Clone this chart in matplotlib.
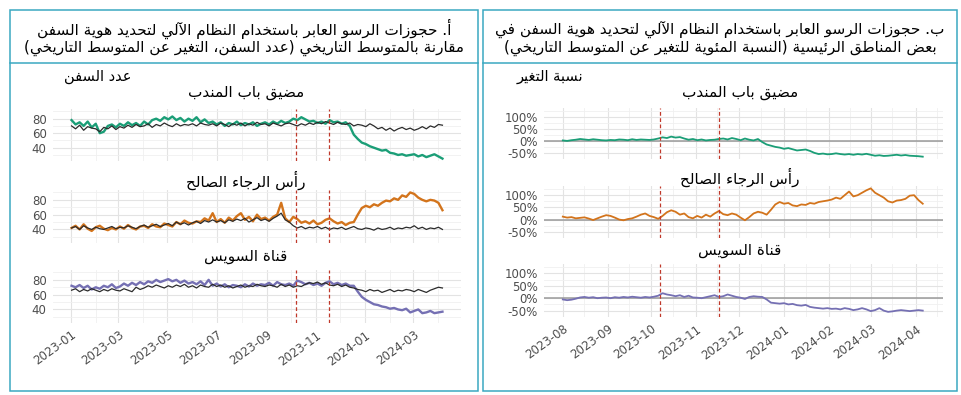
import numpy as np
import matplotlib
matplotlib.use("Agg")
import matplotlib.pyplot as plt
import matplotlib.dates as mdates
from matplotlib.patches import Rectangle
from matplotlib.lines import Line2D

plt.rcParams['font.family'] = ['DejaVu Sans']

W, H = 961, 395

################ datos ################
# panel izquierdo: numero de buques, un punto cada 5 dias desde 2023-01-02
left_start = '2023-01-02'
left_step = 5

bab_ships = [78, 72, 75, 70, 76, 68, 73, 60, 62, 70, 72, 68, 73, 70, 75, 71, 74, 70,
             76, 72, 78, 80, 77, 82, 79, 83, 78, 81, 76, 80, 77, 82, 75, 79, 74, 76,
             72, 75, 70, 74, 72, 76, 71, 74, 72, 75, 70, 73, 75, 72, 76, 73, 77, 74,
             76, 80, 78, 82, 79, 76, 77, 74, 76, 73, 78, 75, 76, 73, 75, 70, 58, 52,
             47, 45, 42, 40, 38, 36, 37, 33, 32, 30, 31, 29, 30, 31, 28, 30, 27, 29,
             31, 28, 25]
bab_hist = [70, 66, 71, 64, 69, 67, 66, 62, 68, 66, 70, 65, 69, 67, 71, 68, 72, 69,
            70, 73, 68, 72, 70, 74, 71, 69, 73, 70, 72, 71, 73, 70, 74, 72, 71, 73,
            70, 74, 72, 69, 73, 71, 74, 70, 73, 71, 75, 72, 73, 70, 74, 72, 70, 73,
            74, 72, 70, 73, 71, 74, 72, 75, 73, 76, 74, 72, 75, 73, 72, 74, 70, 72,
            71, 69, 73, 70, 66, 68, 64, 67, 63, 66, 68, 65, 67, 64, 66, 69, 66, 70,
            68, 72, 71]
cape_ships = [42, 45, 40, 47, 41, 38, 43, 45, 41, 39, 42, 40, 44, 41, 46, 42, 40, 44,
              45, 42, 47, 44, 43, 48, 46, 44, 50, 47, 52, 49, 48, 51, 50, 55, 52, 62,
              50, 54, 49, 56, 52, 58, 62, 53, 57, 51, 60, 54, 56, 52, 57, 60, 76, 55,
              50, 57, 54, 49, 51, 48, 52, 47, 49, 53, 55, 51, 48, 50, 46, 49, 50, 60,
              69, 72, 70, 74, 72, 76, 79, 78, 82, 80, 86, 84, 90, 88, 83, 80, 78, 80,
              79, 76, 66]
cape_hist = [42, 44, 40, 45, 42, 40, 43, 41, 40, 42, 44, 41, 43, 42, 45, 43, 41, 44,
             46, 43, 45, 47, 44, 46, 48, 45, 50, 47, 49, 46, 49, 51, 48, 52, 50, 53,
             50, 52, 49, 53, 51, 54, 52, 55, 50, 53, 56, 52, 54, 51, 55, 58, 62, 53,
             50, 45, 42, 44, 41, 43, 42, 44, 41, 43, 40, 42, 41, 43, 40, 42, 44, 41,
             40, 42, 41, 39, 42, 40, 41, 43, 40, 42, 41, 43, 42, 45, 41, 43, 40, 42,
             41, 43, 40]
suez_ships = [72, 70, 73, 69, 72, 67, 70, 68, 72, 70, 74, 69, 71, 75, 72, 76, 73, 77,
              74, 78, 76, 80, 77, 79, 81, 78, 80, 76, 79, 75, 77, 74, 78, 73, 80, 72,
              75, 71, 74, 70, 73, 72, 70, 74, 71, 75, 72, 74, 73, 76, 72, 77, 74, 73,
              75, 72, 79, 77, 74, 76, 73, 75, 72, 76, 78, 74, 76, 73, 75, 72, 72, 64,
              57, 53, 50, 47, 46, 44, 43, 41, 42, 40, 39, 41, 36, 38, 40, 35, 36, 38,
              35, 36, 37]
suez_hist = [66, 68, 64, 67, 65, 68, 66, 64, 67, 65, 68, 66, 65, 68, 66, 64, 70, 67,
             69, 72, 70, 73, 71, 69, 72, 70, 73, 71, 74, 70, 72, 69, 73, 71, 70, 74,
             71, 73, 70, 72, 69, 71, 73, 70, 72, 71, 74, 72, 71, 73, 72, 70, 74, 71,
             73, 70, 72, 71, 74, 76, 75, 77, 74, 76, 73, 72, 74, 71, 73, 70, 69, 67,
             66, 64, 67, 65, 66, 63, 65, 67, 64, 66, 65, 67, 66, 64, 67, 65, 63, 66,
             68, 70, 69]

# panel derecho: cambio porcentual, un punto cada 3 dias desde 2023-08-01
right_start = '2023-08-01'
right_step = 3

bab_pct = [2, 0, 3, 5, 8, 6, 4, 7, 5, 3, 2, 4, 3, 6, 5, 3, 7, 4, 6, 5,
           4, 6, 10, 15, 12, 18, 14, 16, 10, 5, 8, 3, 6, 2, 4, 5, 8, 10, 6, 12,
           8, 3, 10, 5, 2, 8, -5, -15, -20, -25, -28, -33, -30, -35, -40, -38, -36, -42, -50, -55,
           -53, -56, -55, -52, -55, -57, -55, -58, -55, -57, -54, -58, -62, -60, -63, -62, -60, -58, -61, -59,
           -62, -63, -64, -66]
cape_pct = [12, 8, 10, 5, 7, 9, 4, -2, 5, 12, 18, 15, 8, 0, -3, 2, 5, 12, 20, 25,
            15, 10, 3, 15, 30, 38, 32, 20, 25, 10, 5, 15, 8, 20, 12, 25, 35, 22, 18, 25,
            20, 8, -3, 10, 25, 32, 28, 20, 40, 62, 72, 65, 68, 58, 55, 62, 60, 68, 65, 72,
            75, 78, 82, 90, 85, 100, 115, 95, 100, 110, 120, 128, 110, 100, 90, 75, 70, 78, 80, 85,
            98, 100, 80, 65]
suez_pct = [-5, -8, -6, -2, 3, 5, 2, 4, 0, 2, 3, 0, 4, 2, 5, 3, 6, 4, 2, 5,
            3, 6, 10, 20, 15, 12, 8, 12, 5, 10, 3, 2, 0, 4, 8, 12, 5, 8, 15, 10,
            5, 2, -3, 5, 8, 6, 5, -5, -18, -20, -22, -20, -25, -23, -28, -30, -27, -35, -38, -40,
            -42, -40, -43, -42, -45, -40, -43, -48, -45, -40, -45, -52, -48, -40, -50, -55, -53, -50, -48, -50,
            -52, -50, -48, -50]

events = ['2023-10-07', '2023-11-17']

regions = ['مضيق باب المندب', 'رأس الرجاء الصالح', 'قناة السويس']
title_a = ['أ. حجوزات الرسو العابر باستخدام النظام الآلي لتحديد هوية السفن',
           'مقارنة بالمتوسط التاريخي (عدد السفن، التغير عن المتوسط التاريخي)']
title_b = ['ب. حجوزات الرسو العابر باستخدام النظام الآلي لتحديد هوية السفن في',
           'بعض المناطق الرئيسية (النسبة المئوية للتغير عن المتوسط التاريخي)']
ylab_a = 'عدد السفن'
ylab_b = 'نسبة التغير'

colors = ['#1b9e77', '#d3741c', '#7570b3']


################ texto arabe: formas de presentacion + orden visual ################
FORMS = {
    'ء': (0xFE80, 1), 'آ': (0xFE81, 2), 'أ': (0xFE83, 2), 'ؤ': (0xFE85, 2), 'إ': (0xFE87, 2),
    'ئ': (0xFE89, 4), 'ا': (0xFE8D, 2), 'ب': (0xFE8F, 4), 'ة': (0xFE93, 2), 'ت': (0xFE95, 4),
    'ث': (0xFE99, 4), 'ج': (0xFE9D, 4), 'ح': (0xFEA1, 4), 'خ': (0xFEA5, 4), 'د': (0xFEA9, 2),
    'ذ': (0xFEAB, 2), 'ر': (0xFEAD, 2), 'ز': (0xFEAF, 2), 'س': (0xFEB1, 4), 'ش': (0xFEB5, 4),
    'ص': (0xFEB9, 4), 'ض': (0xFEBD, 4), 'ط': (0xFEC1, 4), 'ظ': (0xFEC5, 4), 'ع': (0xFEC9, 4),
    'غ': (0xFECD, 4), 'ف': (0xFED1, 4), 'ق': (0xFED5, 4), 'ك': (0xFED9, 4), 'ل': (0xFEDD, 4),
    'م': (0xFEE1, 4), 'ن': (0xFEE5, 4), 'ه': (0xFEE9, 4), 'و': (0xFEED, 2), 'ى': (0xFEEF, 2),
    'ي': (0xFEF1, 4),
}
LAM_ALEF = {'آ': 0xFEF5, 'أ': 0xFEF7, 'إ': 0xFEF9, 'ا': 0xFEFB}


def ar(s):
    toks = []
    i = 0
    while i < len(s):
        if s[i] == 'ل' and i + 1 < len(s) and s[i + 1] in LAM_ALEF:
            toks.append(('LA', s[i + 1]))
            i += 2
        else:
            toks.append(('C', s[i]))
            i += 1

    def joinNext(t):
        return t[0] == 'C' and t[1] in FORMS and FORMS[t[1]][1] == 4

    def joinPrev(t):
        return t[0] == 'LA' or (t[1] in FORMS and FORMS[t[1]][1] >= 2)

    out = []
    for k, t in enumerate(toks):
        r = k > 0 and joinNext(toks[k - 1]) and joinPrev(t)
        l = k + 1 < len(toks) and joinNext(t) and joinPrev(toks[k + 1])
        if t[0] == 'LA':
            out.append(chr(LAM_ALEF[t[1]] + int(r)))
        elif t[1] in FORMS:
            base, n = FORMS[t[1]]
            if n == 1:
                out.append(chr(base))
            elif n == 2:
                out.append(chr(base + int(r)))
            else:
                out.append(chr(base + (3 if (r and l) else 1 if r else 2 if l else 0)))
        else:
            out.append(t[1])
    return ''.join(out)[::-1].translate(str.maketrans('()', ')('))


################ utilidades de posicion (pixeles) ################
def pxAxes(fig, x0, y0, x1, y1):
    return fig.add_axes([x0 / W, 1 - y1 / H, (x1 - x0) / W, (y1 - y0) / H])


def pxText(fig, x, y, s, **kw):
    fig.text(x / W, 1 - y / H, s, **kw)


def styleAxes(ax, xlim, ylim, yticks, yminor, ylabels, major_loc, minor_loc, show_dates):
    ax.set_xlim(np.datetime64(xlim[0]), np.datetime64(xlim[1]))
    ax.set_ylim(*ylim)
    for sp in ax.spines.values():
        sp.set_visible(False)
    ax.xaxis.set_major_locator(major_loc)
    ax.xaxis.set_minor_locator(minor_loc)
    ax.xaxis.set_major_formatter(mdates.DateFormatter('%Y-%m'))
    ax.set_yticks(yticks)
    ax.set_yticks(yminor, minor=True)
    ax.set_yticklabels(ylabels)
    ax.grid(True, which='major', color='#e3e3e3', lw=0.8)
    ax.grid(True, which='minor', color='#f0f0f0', lw=0.6)
    ax.set_axisbelow(True)
    ax.tick_params(which='both', length=0)
    ax.tick_params(axis='y', labelsize=8.5, labelcolor='#4d4d4d', pad=4.5)
    if show_dates:
        ax.tick_params(axis='x', labelsize=8.5, labelcolor='#4d4d4d', pad=4)
        for lab in ax.get_xticklabels():
            lab.set_rotation(36)
            lab.set_ha('right')
            lab.set_va('top')
            lab.set_rotation_mode('anchor')
    else:
        ax.tick_params(axis='x', labelbottom=False)
    for d in events:
        ax.axvline(np.datetime64(d), color='#c0392b', lw=0.9, ls=(0, (3, 2)), zorder=4)


################ figura ################
fig = plt.figure(figsize=(W / 100, H / 100), dpi=100)

# marcos
teal = '#3aa8c1'
for x0, x1 in [(10, 478), (483, 957)]:
    fig.patches.append(Rectangle((x0 / W, 1 - 391 / H), (x1 - x0) / W, (391 - 10) / H,
                                 transform=fig.transFigure, fill=False, ec=teal, lw=1.1))
    fig.lines.append(Line2D([x0 / W, x1 / W], [1 - 63 / H, 1 - 63 / H],
                            transform=fig.transFigure, color=teal, lw=1.1))

# titulos
for cx, lines in [(244, title_a), (720, title_b)]:
    for y, s in zip([29, 48], lines):
        pxText(fig, cx, y, ar(s), ha='center', va='center', fontsize=11)

pxText(fig, 98, 76, ar(ylab_a), ha='center', va='center', fontsize=10.5)
pxText(fig, 550, 77, ar(ylab_b), ha='center', va='center', fontsize=10.5)

# panel izquierdo
left_dates = np.datetime64(left_start) + np.arange(len(bab_ships)) * left_step
left_rows = [(109, 161), (190, 243), (270, 323)]
left_series = [(bab_ships, bab_hist), (cape_ships, cape_hist), (suez_ships, suez_hist)]
left_title_y = [92, 180, 256]

for k, ((y0, y1), (ships, hist)) in enumerate(zip(left_rows, left_series)):
    ax = pxAxes(fig, 53, y0, 461, y1)
    ax.plot(left_dates, ships, color=colors[k], lw=1.7, zorder=2)
    ax.plot(left_dates, hist, color='#2b2b2b', lw=0.9, zorder=3)
    styleAxes(ax, ('2022-12-10', '2024-04-29'), (21.7, 93.3), [40, 60, 80], [30, 50, 70, 90],
              ['40', '60', '80'], mdates.MonthLocator(bymonth=[1, 3, 5, 7, 9, 11]),
              mdates.MonthLocator(), k == 2)
    pxText(fig, 246, left_title_y[k], ar(regions[k]), ha='center', va='center', fontsize=11)

# panel derecho
right_dates = np.datetime64(right_start) + np.arange(len(bab_pct)) * right_step
right_rows = [(108, 159), (186, 238), (264, 317)]
right_series = [bab_pct, cape_pct, suez_pct]
right_title_y = [92, 177, 251]
pct_ticks = [-50, 0, 50, 100]

for k, ((y0, y1), pct) in enumerate(zip(right_rows, right_series)):
    ax = pxAxes(fig, 544, y0, 943, y1)
    ax.axhline(0, color='#9a9a9a', lw=1.1, zorder=1)
    ax.plot(right_dates, pct, color=colors[k], lw=1.3, zorder=2)
    styleAxes(ax, ('2023-07-19', '2024-04-20'), (-75.7, 137.7), pct_ticks, [-75, -25, 25, 75, 125],
              [f'{t}%' for t in pct_ticks], mdates.MonthLocator(),
              mdates.MonthLocator(bymonthday=16), k == 2)
    pxText(fig, 740, right_title_y[k], ar(regions[k]), ha='center', va='center', fontsize=11)

fig.savefig('out.png', dpi=100)
